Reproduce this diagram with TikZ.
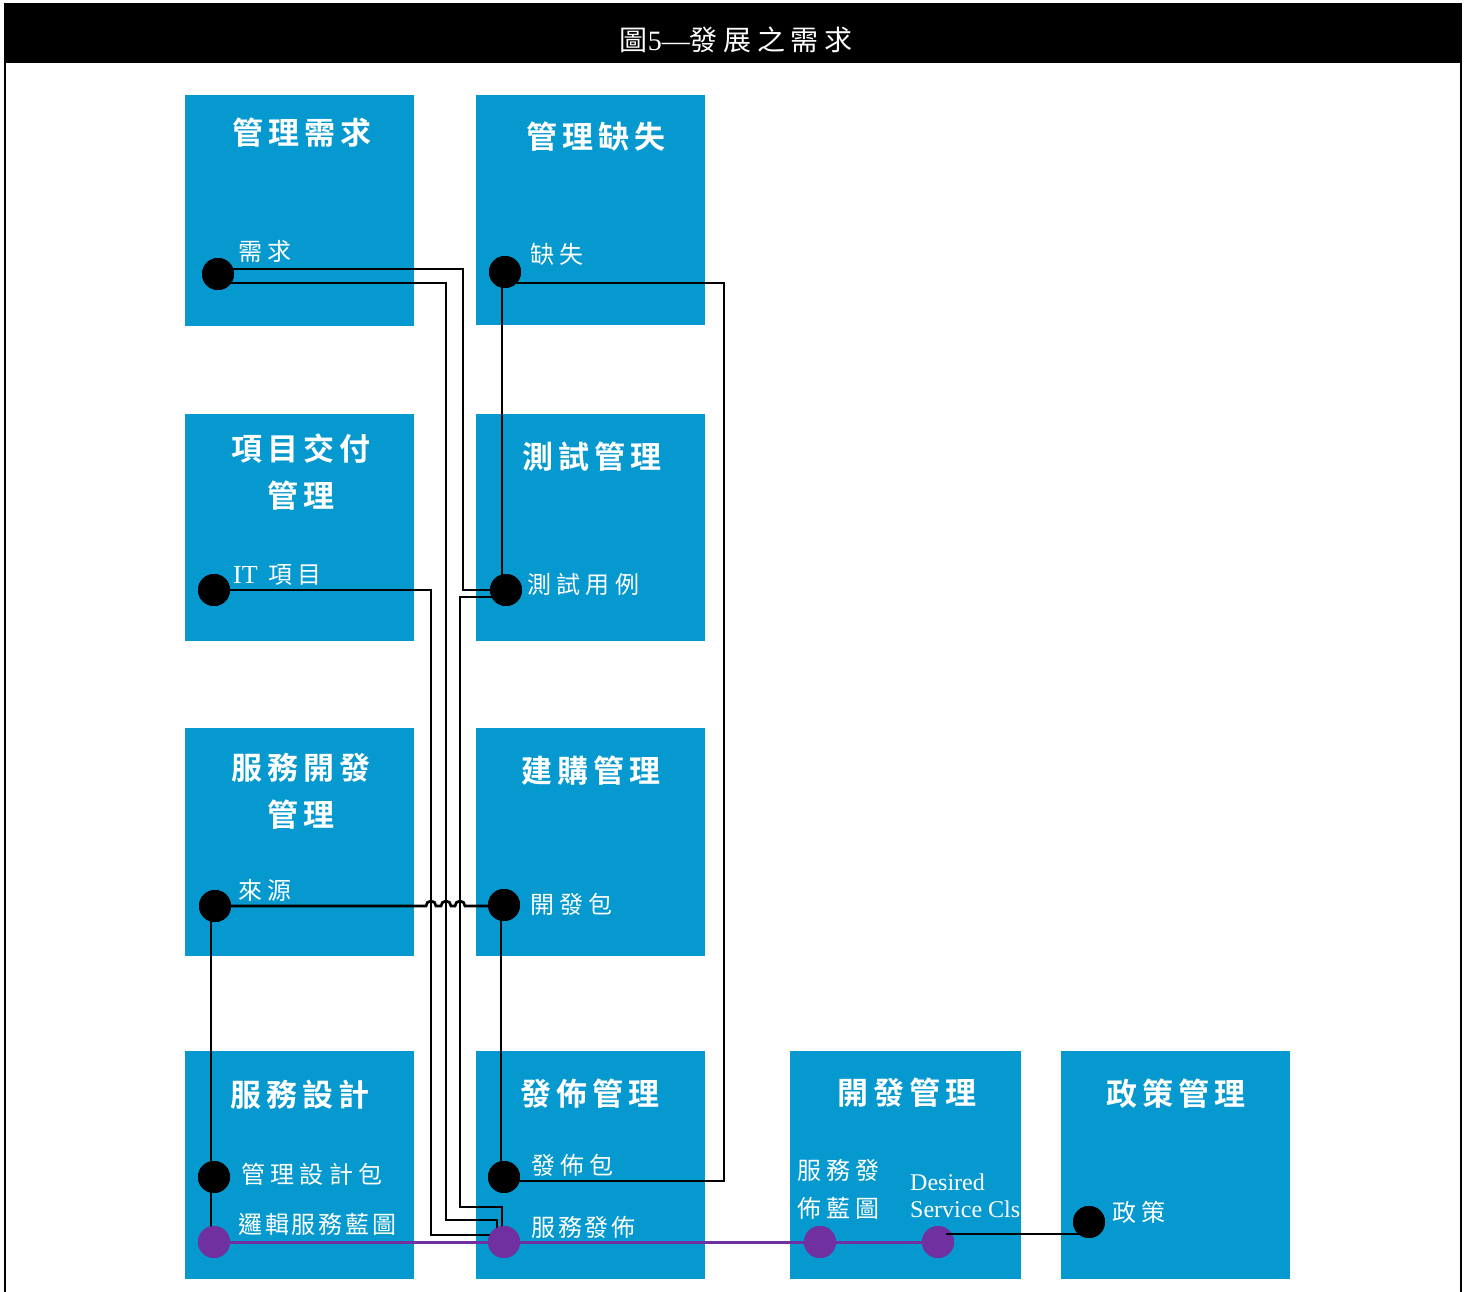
\documentclass[tikz,border=0pt]{standalone}
\usepackage{fontspec}
\usetikzlibrary{calc}
\setmainfont{Liberation Serif}
\newfontfamily\cjkT{Noto Sans CJK TC Bold}[LetterSpace=16]
\newfontfamily\cjkL{Noto Sans CJK TC}[LetterSpace=22]
\newfontfamily\cjkS{Noto Sans CJK TC}[LetterSpace=12]
\newfontfamily\cjkH{Noto Sans CJK TC}[LetterSpace=20]
\definecolor{boxblue}{RGB}{5,153,207}
\definecolor{lineviolet}{RGB}{112,48,160}
\begin{document}
\begin{tikzpicture}[x=1pt,y=-1pt,
  box/.style={fill=boxblue, draw=none, inner sep=0pt, anchor=north west, minimum width=229pt, minimum height=228pt},
  ttl/.style={text=white, font=\fontsize{31}{47}\cjkT, align=center, inner sep=0pt},
  lbl/.style={text=white, font=\fontsize{24}{38}\cjkL, anchor=west, inner sep=0pt, align=left},
  dot/.style={circle, fill=black, minimum size=32pt, inner sep=0pt},
  pdot/.style={circle, fill=lineviolet, minimum size=32pt, inner sep=0pt},
  wire/.style={draw=black, line width=2.7pt},
  pwire/.style={draw=lineviolet, line width=3pt}]
\useasboundingbox[fill=white] (0,0) rectangle (1468,1292);
% title bar and frame
\node[fill=black, minimum width=1458pt, minimum height=60pt, inner sep=0pt, anchor=north west] (bar) at (4,3) {};
\node[text=white, inner sep=0pt, font=\fontsize{28}{30}\selectfont] (bartxt) at (736,40) {{\cjkH 圖}5—{\cjkH 發展之需求}};
\draw[line width=2pt] (bar.south west) ++(1,0) -- ++(0,1240);
\draw[line width=2pt] (bar.south east) ++(-1,0) -- ++(0,1240);
% boxes
\node[box, minimum height=231pt] (b1) at (185,95) {};
\node[box, minimum height=230pt] (b2) at (476,95) {};
\node[box, minimum height=227pt] (b3) at (185,414) {};
\node[box, minimum height=227pt] (b4) at (476,414) {};
\node[box] (b5) at (185,728) {};
\node[box] (b6) at (476,728) {};
\node[box] (b7) at (185,1051) {};
\node[box] (b8) at (476,1051) {};
\node[box, minimum width=231pt] (b9) at (790,1051) {};
\node[box] (b10) at (1061,1051) {};
% titles
\node[ttl] (t1) at (302,133) {管理需求};
\node[ttl] (t2) at (596,137) {管理缺失};
\node[ttl] (t3) at (301,472) {項目交付\\管理};
\node[ttl] (t4) at (592,457) {測試管理};
\node[ttl] (t5) at (301,791) {服務開發\\管理};
\node[ttl] (t6) at (591,771) {建購管理};
\node[ttl] (t7) at (300,1095) {服務設計};
\node[ttl] (t8) at (590,1094) {發佈管理};
\node[ttl] (t9) at (907,1093) {開發管理};
\node[ttl] (t10) at (1176,1094) {政策管理};
% labels
\node[lbl] (l1) at (238,251) {需求};
\node[lbl] (l2) at (530,254) {缺失};
\node[lbl] (l3) at (233,575) {{\fontsize{26}{30}\rmfamily IT} 項目};
\node[lbl] (l4) at (527,584) {測試用例};
\node[lbl] (l5) at (238,890) {來源};
\node[lbl] (l6) at (530,904) {開發包};
\node[lbl] (l7) at (241,1174) {管理設計包};
\node[lbl, font=\fontsize{24}{38}\cjkS] (l8) at (238,1224) {邏輯服務藍圖};
\node[lbl] (l9) at (531,1165) {發佈包};
\node[lbl, font=\fontsize{24}{38}\cjkS] (l10) at (531,1227) {服務發佈};
\node[lbl] (l11) at (797,1189) {服務發\\佈藍圖};
\node[lbl, font=\fontsize{24}{27}\selectfont] (l12) at (910,1196) {Desired\\Service Cls};
\node[lbl] (l13) at (1112,1212) {政策};
% route coordinates
\coordinate (vA) at (463,430);
\coordinate (vB) at (446,700);
\coordinate (vC) at (460,900);
\coordinate (vD) at (431,900);
\coordinate (vE) at (724,700);
% dots (positions)
\node[dot] (dReq) at (218,274) {};
\node[dot] (dDef) at (505,272) {};
\node[dot] (dTest) at (506,590) {};
\node[dot] (dIT) at (214,590) {};
\node[dot] (dSrc) at (215,906) {};
\node[dot] (dDev) at (504,905) {};
\node[dot] (dMgd) at (214,1177) {};
\node[dot] (dRel) at (504,1177) {};
\node[pdot] (pL) at (214,1242) {};
\node[pdot] (pPub) at (504,1242) {};
\node[pdot] (pBp) at (820,1242) {};
\node[pdot] (pDs) at (938,1242) {};
\node[dot] (dPol) at (1089,1222) {};
% wires
\draw[pwire] (pL.center) -- (pPub.center) -- (pBp.center) -- (pDs.center);
\draw[wire] ($(dReq.center)+(0,-5)$) -| (vA) |- (dTest.center);
\draw[wire] ($(dReq.center)+(0,9)$) -| (vB) |- ($(pPub.center)+(-7,-22)$) -- ($(pPub.center)+(-7,0)$);
\draw[wire] ($(dTest.center)+(0,7)$) -| (vC) |- ($(pPub.center)+(-2,-35)$) -- ($(pPub.center)+(-2,0)$);
\draw[wire] (dIT.center) -| (vD) |- ($(pPub.center)+(0,-7)$);
\draw[wire] ($(dTest.center |- dDef.center)+(-4,0)$) -- ($(dTest.center)+(-4,0)$);
\draw[wire] ($(dDef.center)+(0,11)$) -| (vE) |- ($(dRel.center)+(0,4)$);
\draw[wire] (dSrc.center) -- ($(dSrc.center -| vD)+(-5,0)$) arc[start angle=180, end angle=0, radius=5pt]
  -- ($(dSrc.center -| vB)+(-5,0)$) arc[start angle=180, end angle=0, radius=5pt]
  -- ($(dSrc.center -| vC)+(-5,0)$) arc[start angle=180, end angle=0, radius=5pt]
  -- (dSrc.center -| dDev.center);
\draw[wire] ($(dSrc.center)+(-4,0)$) -- ($(dMgd.center)+(-3,0)$) -- ($(pL.center)+(-3,0)$);
\draw[wire] ($(dDev.center)+(-3,0)$) -- ($(dRel.center)+(-3,0)$);
% redraw dots on top
\node[dot] at (dReq) {};
\node[dot] at (dDef) {};
\node[dot] at (dTest) {};
\node[dot] at (dIT) {};
\node[dot] at (dSrc) {};
\node[dot] at (dDev) {};
\node[dot] at (dMgd) {};
\node[dot] at (dRel) {};
\node[pdot] at (pL) {};
\node[pdot] at (pPub) {};
\node[pdot] at (pBp) {};
\node[pdot] at (pDs) {};
\draw[wire] ($(pDs.center)+(8,-8)$) -- ($(dPol.center |- pDs.center)+(0,-8)$);
\node[dot] at (dPol) {};
\end{tikzpicture}
\end{document}
